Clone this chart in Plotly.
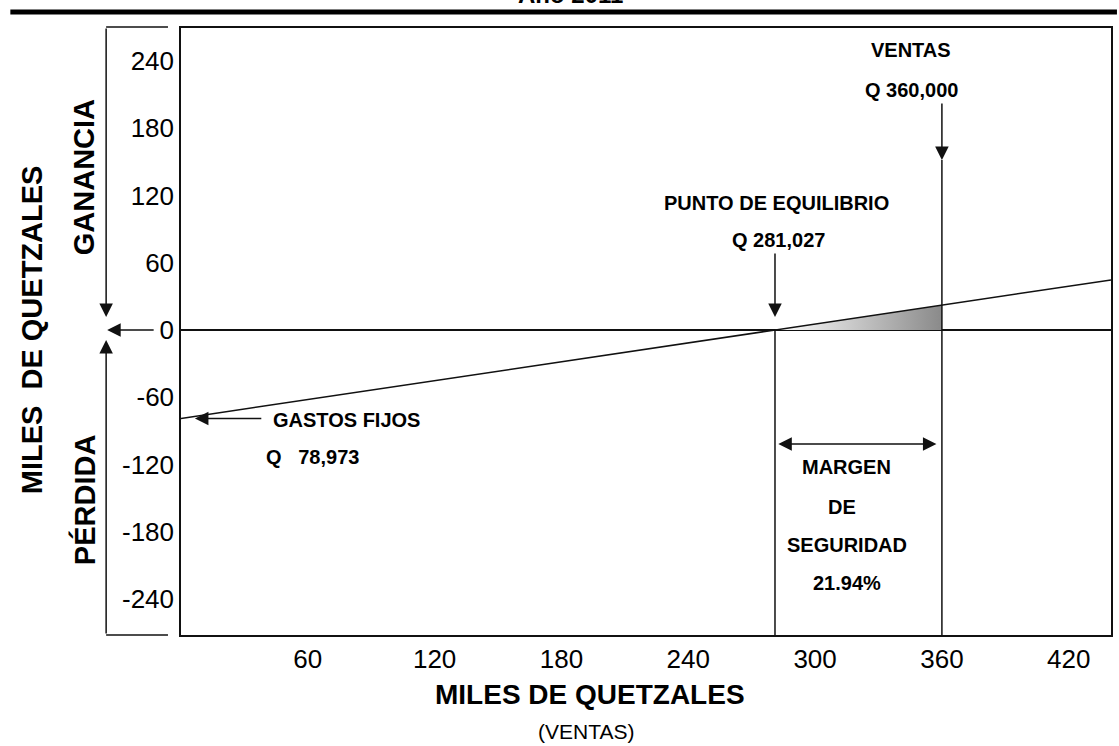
import plotly.graph_objects as go

# Break-even chart, values in thousands of quetzales
SALES = [0, 281.027, 360, 440]            # sales axis points of the result line
RESULT = [-78.973, 0, 22.19, 44.68]       # profit (+) / loss (-) at those sales
FIXED_COSTS = 78.973
BREAK_EVEN = 281.027
SALES_TOTAL = 360
PROFIT_AT_SALES = 22.19
SAFETY_MARGIN = "21.94%"

X_TICKS = [60, 120, 180, 240, 300, 360, 420]
Y_TICKS = [-240, -180, -120, -60, 0, 60, 120, 180, 240]

X_RANGE = [0, 440]
Y_RANGE = [-272.3, 269.6]

FONT = "Liberation Sans"
INK = "#111111"

fig = go.Figure()

# shaded profit wedge between break-even and actual sales
fig.add_trace(go.Scatter(
    x=[BREAK_EVEN, SALES_TOTAL, SALES_TOTAL, BREAK_EVEN],
    y=[0, 0, PROFIT_AT_SALES, 0],
    mode="lines", line=dict(width=0), fill="toself",
    fillgradient=dict(type="horizontal",
                      colorscale=[[0, "#ffffff"], [1, "#8a8a8a"]]),
    hoverinfo="skip", showlegend=False,
))

# result line (sales minus total costs)
fig.add_trace(go.Scatter(
    x=SALES, y=RESULT, mode="lines",
    line=dict(color=INK, width=1.5), showlegend=False, hoverinfo="skip",
))

shapes = [
    # vertical at break-even
    dict(type="line", xref="x", yref="y", x0=BREAK_EVEN, x1=BREAK_EVEN,
         y0=Y_RANGE[0], y1=0, line=dict(color=INK, width=1.5)),
    # vertical at actual sales
    dict(type="line", xref="x", yref="y", x0=SALES_TOTAL, x1=SALES_TOTAL,
         y0=Y_RANGE[0], y1=151.8, line=dict(color=INK, width=1.5)),
    # heavy rule at the top of the page
    dict(type="line", xref="paper", yref="paper", x0=-0.1835, x1=1.0064,
         y0=1.0264, y1=1.0264, line=dict(color="#000000", width=5)),
    # bracket ends on the left
    dict(type="line", xref="paper", yref="paper", x0=-0.0805, x1=-0.014,
         y0=1.0016, y1=1.0016, line=dict(color=INK, width=1.5)),
    dict(type="line", xref="paper", yref="paper", x0=-0.0805, x1=-0.014,
         y0=0.0, y1=0.0, line=dict(color=INK, width=1.5)),
]

arrow = dict(showarrow=True, arrowhead=2, arrowsize=1.8, arrowwidth=1.5,
             arrowcolor=INK, text="", standoff=0)
mid = dict(xanchor="center", yanchor="middle", showarrow=False)


def bold(s):
    return dict(family=FONT, size=s, color="#000000", weight="bold")


LBL = 20

annotations = [
    # title (runs off the top edge)
    dict(text="Año 2011", xref="paper", yref="paper", x=0.4185, y=1.0297,
         xanchor="center", yanchor="bottom", showarrow=False, font=bold(24)),

    # labels inside the plot
    dict(text="VENTAS", x=345.6, y=250, font=bold(LBL), **mid),
    dict(text="Q 360,000", x=345.6, y=214.3, font=bold(LBL), **mid),
    dict(x=SALES_TOTAL, y=151.8, ax=SALES_TOTAL, ay=203.6,
         axref="x", ayref="y", **arrow),

    dict(text="PUNTO DE EQUILIBRIO", x=281.9, y=113.4, font=bold(LBL), **mid),
    dict(text="Q 281,027", x=282.8, y=80.4, font=bold(LBL), **mid),
    dict(x=BREAK_EVEN, y=11.6, ax=BREAK_EVEN, ay=69.6,
         axref="x", ayref="y", **arrow),

    dict(text="GASTOS FIJOS", x=78.4, y=-80.4, font=bold(LBL), **mid),
    dict(text="Q\u00a0\u00a0 78,973", x=62.3, y=-113.4, font=bold(LBL), **mid),
    dict(x=6.6, y=-FIXED_COSTS, ax=38.7, ay=-FIXED_COSTS,
         axref="x", ayref="y", **arrow),

    dict(x=357.4, y=-101.8, ax=281.9, ay=-101.8, axref="x", ayref="y",
         arrowside="end+start", startarrowhead=2, startarrowsize=1.8, **arrow),
    dict(text="MARGEN", x=314.9, y=-122.3, font=bold(LBL), **mid),
    dict(text="DE", x=312.6, y=-158, font=bold(LBL), **mid),
    dict(text="SEGURIDAD", x=314.9, y=-192, font=bold(LBL), **mid),
    dict(text=SAFETY_MARGIN, x=314.9, y=-225.9, font=bold(LBL), **mid),

    # left-hand bracket arrows
    dict(xref="paper", yref="paper", x=-0.0805, y=0.5239, ax=0, ay=-290, **arrow),
    dict(xref="paper", yref="paper", x=-0.0794, y=0.5025, ax=48, ay=0, **arrow),
    dict(xref="paper", yref="paper", x=-0.0805, y=0.486, ax=0, ay=295, **arrow),

    # left titles
    dict(text="MILES\u00a0 DE QUETZALES", xref="paper", yref="paper",
         x=-0.1599, y=0.5025, textangle=-90, font=bold(29), **mid),
    dict(text="GANANCIA", xref="paper", yref="paper", x=-0.1041, y=0.7545,
         textangle=-90, font=bold(29), **mid),
    dict(text="PÉRDIDA", xref="paper", yref="paper", x=-0.1041, y=0.2224,
         textangle=-90, font=bold(29), **mid),

    # bottom titles
    dict(text="MILES DE QUETZALES", xref="paper", yref="paper", x=0.4399,
         y=-0.0988, font=bold(28), **mid),
    dict(text="(VENTAS)", xref="paper", yref="paper", x=0.4356, y=-0.159,
         font=dict(family=FONT, size=21, color="#000000"), **mid),
]

fig.update_layout(
    width=1119, height=746,
    margin=dict(l=181, r=6, t=28, b=111),
    paper_bgcolor="white", plot_bgcolor="white",
    showlegend=False,
    shapes=shapes, annotations=annotations,
    font=dict(family=FONT, color="#000000"),
)

fig.update_xaxes(
    range=X_RANGE, tickvals=X_TICKS, ticktext=[str(v) for v in X_TICKS],
    showgrid=False, zeroline=False, showline=True, mirror=True,
    linecolor=INK, linewidth=1.5, ticks="",
    tickfont=dict(family=FONT, size=26, color="#000000"),
)
fig.update_yaxes(
    range=Y_RANGE, tickvals=Y_TICKS, ticktext=[str(v) for v in Y_TICKS],
    showgrid=False, zeroline=True, zerolinecolor=INK, zerolinewidth=1.5,
    showline=True, mirror=True, linecolor=INK, linewidth=1.5, ticks="",
    tickfont=dict(family=FONT, size=26, color="#000000"),
)

fig.write_html("out.html")
